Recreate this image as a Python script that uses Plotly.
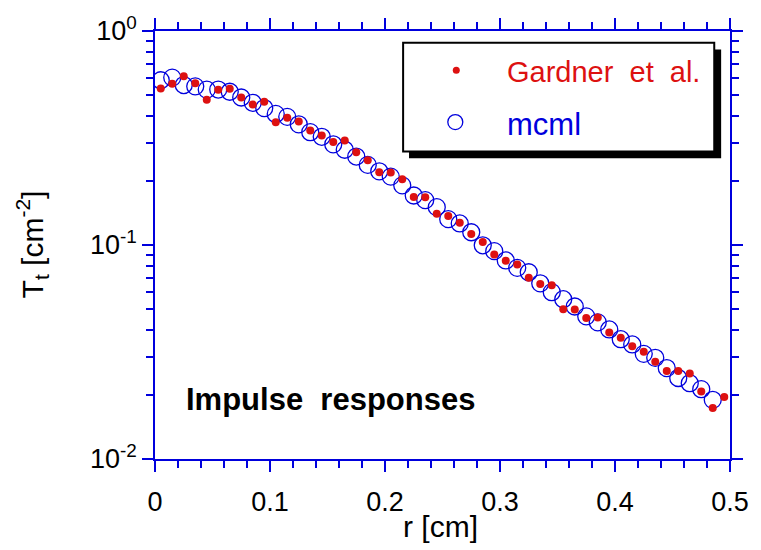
import plotly.graph_objects as go

# ---- data ----
r_gardner = [0.005, 0.015, 0.025, 0.035, 0.045, 0.055, 0.065, 0.075, 0.085, 0.095,
             0.105, 0.115, 0.125, 0.135, 0.145, 0.155, 0.165, 0.175, 0.185, 0.195,
             0.205, 0.215, 0.225, 0.235, 0.245, 0.255, 0.265, 0.275, 0.285, 0.295,
             0.305, 0.315, 0.325, 0.335, 0.345, 0.355, 0.365, 0.375, 0.385, 0.395,
             0.405, 0.415, 0.425, 0.435, 0.445, 0.455, 0.465, 0.475, 0.485, 0.495]
t_gardner = [0.539, 0.567, 0.614, 0.570, 0.477, 0.531, 0.537, 0.489, 0.453, 0.467,
             0.3745, 0.3936, 0.378, 0.3424, 0.3248, 0.3030, 0.3082, 0.2713, 0.2490, 0.2185,
             0.2180, 0.2031, 0.1676, 0.1671, 0.1401, 0.1365, 0.1272, 0.1126, 0.1034, 0.0904,
             0.0843, 0.0810, 0.0703, 0.0658, 0.0649, 0.0501, 0.0500, 0.0456, 0.0458, 0.0390,
             0.0369, 0.0336, 0.0317, 0.0285, 0.0258, 0.0258, 0.0251, 0.0207, 0.0173, 0.0195]

r_mcml = [0.005, 0.015, 0.025, 0.035, 0.045, 0.055, 0.065, 0.075, 0.085, 0.095,
          0.105, 0.115, 0.125, 0.135, 0.145, 0.155, 0.165, 0.175, 0.185, 0.195,
          0.205, 0.215, 0.225, 0.235, 0.245, 0.255, 0.265, 0.275, 0.285, 0.295,
          0.305, 0.315, 0.325, 0.335, 0.345, 0.355, 0.365, 0.375, 0.385, 0.395,
          0.405, 0.415, 0.425, 0.435, 0.445, 0.455, 0.465, 0.475, 0.485]
t_mcml = [0.5886, 0.6056, 0.5589, 0.5512, 0.5323, 0.5327, 0.5201, 0.489, 0.4619, 0.4363,
          0.4098, 0.3970, 0.3663, 0.3367, 0.3203, 0.2954, 0.2786, 0.2590, 0.2368, 0.2209,
          0.2087, 0.1900, 0.1703, 0.1621, 0.1503, 0.1321, 0.1261, 0.1147, 0.0997, 0.0936,
          0.0847, 0.0782, 0.0746, 0.0662, 0.0602, 0.0558, 0.0516, 0.0464, 0.0435, 0.0403,
          0.0363, 0.0343, 0.0310, 0.0297, 0.0266, 0.0239, 0.0226, 0.0212, 0.0189]

x_tickvals = [0, 0.1, 0.2, 0.3, 0.4, 0.5]
x_ticktext = ["0", "0.1", "0.2", "0.3", "0.4", "0.5"]
y_tickvals = [1, 0.1, 0.01]
y_ticktext = ["10<sup>0</sup>", "10<sup>-1</sup>", "10<sup>-2</sup>"]
y_minorvals = [0.02, 0.03, 0.04, 0.05, 0.06, 0.07, 0.08, 0.09,
               0.2, 0.3, 0.4, 0.5, 0.6, 0.7, 0.8, 0.9]

legend_names = ["Gardner\u00a0 et\u00a0 al.", "mcml"]
note_text = "Impulse\u00a0 responses"

# ---- styling ----
BLUE = "#0000dd"
RED = "#dd1111"
FONT = "Liberation Sans, Arial, sans-serif"
W, H = 761, 550
L, R, T, B = 155, 22, 22, 91
PW, PH = W - L - R, H - T - B


def px(x):
    return (x - L) / PW


def py(y):
    return (H - B - y) / PH


fig = go.Figure()
fig.add_trace(go.Scatter(
    x=r_mcml, y=t_mcml, mode="markers", name="mcml",
    marker=dict(symbol="circle-open", size=17, color=BLUE, line=dict(width=1.3, color=BLUE)),
    showlegend=False))
fig.add_trace(go.Scatter(
    x=r_gardner, y=t_gardner, mode="markers", name="Gardner et al.",
    marker=dict(symbol="circle", size=8, color=RED, line=dict(width=0)),
    showlegend=False))

axis_common = dict(
    showline=True, linecolor=BLUE, linewidth=1.5, mirror="allticks",
    ticks="outside", ticklen=11, tickwidth=1.5, tickcolor=BLUE,
    showgrid=False, zeroline=False,
    tickfont=dict(family=FONT, size=27, color="black"),
)

fig.update_xaxes(range=[0, 0.5], tickvals=x_tickvals, ticktext=x_ticktext,
                 minor=dict(dtick=0.02, tick0=0, ticks="outside", ticklen=7,
                            tickwidth=1.5, tickcolor=BLUE, showgrid=False),
                 ticklabelstandoff=7,
                 **axis_common)
fig.update_yaxes(type="log", range=[-2, 0], tickvals=y_tickvals, ticktext=y_ticktext,
                 minor=dict(tickvals=y_minorvals, ticks="outside", ticklen=7,
                            tickwidth=1.5, tickcolor=BLUE, showgrid=False),
                 **axis_common)

shapes = [
    # legend box shadow
    dict(type="rect", xref="paper", yref="paper", x0=px(413), x1=px(730), y0=py(152), y1=py(41),
         fillcolor="black", line=dict(width=0), layer="above"),
    # legend box
    dict(type="rect", xref="paper", yref="paper", x0=px(407), x1=px(723), y0=py(145), y1=py(34),
         fillcolor="white", line=dict(color="black", width=2), layer="above"),
    # legend symbols
    dict(type="circle", xref="paper", yref="paper", xsizemode="pixel", ysizemode="pixel",
         xanchor=px(461), yanchor=py(62), x0=-3.5, x1=3.5, y0=-3.5, y1=3.5,
         fillcolor=RED, line=dict(width=0), layer="above"),
    dict(type="circle", xref="paper", yref="paper", xsizemode="pixel", ysizemode="pixel",
         xanchor=px(460), yanchor=py(115), x0=-7.5, x1=7.5, y0=-7.5, y1=7.5,
         fillcolor="rgba(0,0,0,0)", line=dict(color=BLUE, width=1.3), layer="above"),
]

annotations = [
    dict(text=legend_names[0], x=px(510), y=py(63.5), xref="paper", yref="paper",
         xanchor="left", yanchor="middle", showarrow=False,
         font=dict(family=FONT, size=29, color=RED)),
    dict(text=legend_names[1], x=px(510), y=py(117), xref="paper", yref="paper",
         xanchor="left", yanchor="middle", showarrow=False,
         font=dict(family=FONT, size=31, color=BLUE)),
    dict(text="<b>" + note_text + "</b>", x=px(184), y=py(398), xref="paper", yref="paper",
         xanchor="left", yanchor="middle", showarrow=False,
         font=dict(family=FONT, size=31, color="black")),
    dict(text="r [cm]", x=px(445), y=py(528), xref="paper", yref="paper",
         xanchor="center", yanchor="middle", showarrow=False,
         font=dict(family=FONT, size=30, color="black")),
    dict(text="T<sub>t</sub> [cm<sup>-2</sup>]", x=px(30), y=py(240), xref="paper", yref="paper",
         xanchor="center", yanchor="middle", showarrow=False, textangle=-90,
         font=dict(family=FONT, size=30, color="black")),
]

fig.update_layout(
    width=W, height=H,
    margin=dict(l=L, r=R, t=T, b=B),
    paper_bgcolor="white", plot_bgcolor="white",
    shapes=shapes, annotations=annotations,
    showlegend=False,
)

fig.write_html("out.html")
